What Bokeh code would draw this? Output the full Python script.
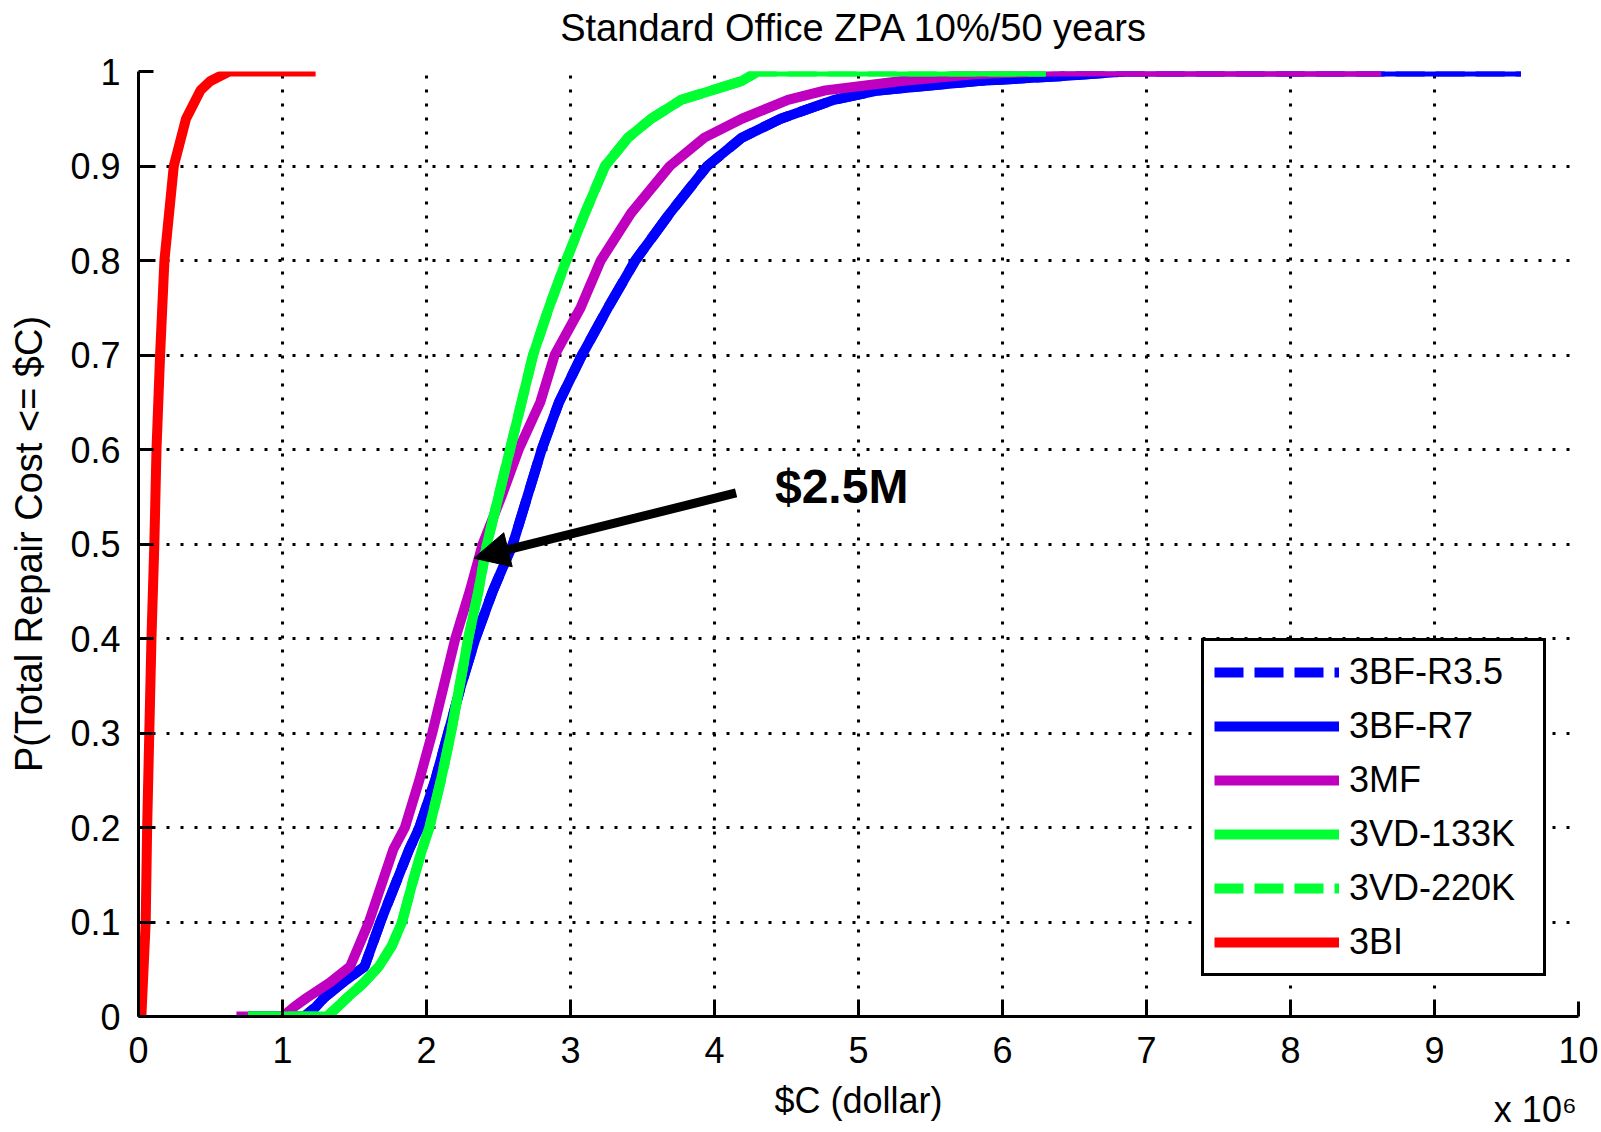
from bokeh.plotting import figure
from bokeh.models import (FixedTicker, CustomJSTickFormatter, Legend, LegendItem,
                          Label, Arrow, NormalHead, Range1d, LinearAxis)
from bokeh.embed import file_html
from bokeh.resources import INLINE

FONT = "Liberation Sans"
TITLE = "Standard Office ZPA 10%/50 years"
TITLE_POS = 4.97
X_LABEL = "$C (dollar)"
Y_LABEL = "P(Total Repair Cost <= $C)"
X_SCALE_TEXT = "x 10\u2076"
X_SCALE_POS = 9.70
X_TICKS = [0, 1, 2, 3, 4, 5, 6, 7, 8, 9, 10]
Y_TICKS = [0, 0.1, 0.2, 0.3, 0.4, 0.5, 0.6, 0.7, 0.8, 0.9, 1]

# x in millions of dollars, y = cumulative probability
X_BF35 = [0.76, 1.15, 1.23, 1.29, 1.42, 1.57, 1.68, 1.88, 1.95, 2.06, 2.15, 2.24, 2.34, 2.46, 2.60, 2.70,
          2.80, 2.92, 3.08, 3.26, 3.45, 3.69, 3.95, 4.19, 4.46, 4.83, 5.14, 5.83, 6.40, 6.85, 9.60]
Y_BF35 = [0.0, 0.0, 0.01, 0.02, 0.036, 0.053, 0.10, 0.177, 0.20, 0.25, 0.30, 0.35, 0.40, 0.45, 0.50, 0.55,
          0.60, 0.65, 0.70, 0.75, 0.80, 0.85, 0.90, 0.93, 0.95, 0.97, 0.98, 0.99, 0.995, 1.0, 1.0]

X_BF7 = [0.76, 1.15, 1.23, 1.29, 1.42, 1.57, 1.68, 1.88, 1.95, 2.06, 2.15, 2.24, 2.34, 2.46, 2.60, 2.70,
         2.80, 2.92, 3.08, 3.26, 3.45, 3.69, 3.95, 4.19, 4.46, 4.83, 5.14, 5.83, 6.40, 6.85, 9.60]
Y_BF7 = [0.0, 0.0, 0.01, 0.02, 0.036, 0.053, 0.10, 0.177, 0.20, 0.25, 0.30, 0.35, 0.40, 0.45, 0.50, 0.55,
         0.60, 0.65, 0.70, 0.75, 0.80, 0.85, 0.90, 0.93, 0.95, 0.97, 0.98, 0.99, 0.995, 1.0, 1.0]

X_MF = [0.68, 1.00, 1.08, 1.17, 1.33, 1.47, 1.60, 1.77, 1.85, 1.95, 2.04, 2.12, 2.20, 2.30, 2.39, 2.52,
        2.64, 2.79, 2.89, 3.07, 3.21, 3.42, 3.69, 3.93, 4.19, 4.51, 4.77, 5.30, 5.80, 6.30, 8.63]
Y_MF = [0.0, 0.0, 0.01, 0.02, 0.036, 0.053, 0.10, 0.177, 0.20, 0.25, 0.30, 0.35, 0.40, 0.45, 0.50, 0.55,
        0.60, 0.65, 0.70, 0.75, 0.80, 0.85, 0.90, 0.93, 0.95, 0.97, 0.98, 0.99, 0.997, 1.0, 1.0]

X_VD133 = [0.76, 1.31, 1.38, 1.45, 1.56, 1.67, 1.76, 1.83, 1.90, 1.97, 2.02, 2.10, 2.17, 2.23, 2.29, 2.36,
           2.42, 2.50, 2.58, 2.66, 2.74, 2.85, 2.97, 3.10, 3.24, 3.40, 3.56, 3.77, 3.98, 4.19, 4.30, 6.30]
Y_VD133 = [0.0, 0.0, 0.01, 0.02, 0.035, 0.053, 0.075, 0.10, 0.14, 0.177, 0.20, 0.25, 0.30, 0.35, 0.40, 0.45,
           0.50, 0.55, 0.60, 0.65, 0.70, 0.75, 0.80, 0.85, 0.90, 0.93, 0.95, 0.97, 0.98, 0.99, 1.0, 1.0]

X_VD220 = [0.76, 1.31, 1.38, 1.45, 1.56, 1.67, 1.76, 1.83, 1.90, 1.97, 2.02, 2.10, 2.17, 2.23, 2.29, 2.36,
           2.42, 2.50, 2.58, 2.66, 2.74, 2.85, 2.97, 3.10, 3.24, 3.40, 3.56, 3.77, 3.98, 4.19, 4.30, 6.30]
Y_VD220 = [0.0, 0.0, 0.01, 0.02, 0.035, 0.053, 0.075, 0.10, 0.14, 0.177, 0.20, 0.25, 0.30, 0.35, 0.40, 0.45,
           0.50, 0.55, 0.60, 0.65, 0.70, 0.75, 0.80, 0.85, 0.90, 0.93, 0.95, 0.97, 0.98, 0.99, 1.0, 1.0]

X_BI = [0.02, 0.05, 0.06, 0.075, 0.09, 0.11, 0.125, 0.15, 0.18, 0.245, 0.33, 0.43, 0.50, 0.63, 1.23]
Y_BI = [0.0, 0.1, 0.2, 0.3, 0.4, 0.5, 0.6, 0.7, 0.8, 0.9, 0.95, 0.98, 0.99, 1.0, 1.0]

SERIES_NAMES = ["3BF-R3.5", "3BF-R7", "3MF", "3VD-133K", "3VD-220K", "3BI"]
SERIES_X = [X_BF35, X_BF7, X_MF, X_VD133, X_VD220, X_BI]
SERIES_Y = [Y_BF35, Y_BF7, Y_MF, Y_VD133, Y_VD220, Y_BI]
SERIES_COLORS = ["#0000FF", "#0000FF", "#BF00BF", "#00FF33", "#00FF33", "#FF0000"]
SERIES_DASH = ["29 11", "solid", "solid", "solid", "29 11", "solid"]

ANNOT_TEXT = "$2.5M"
ARROW_START = (4.15, 0.554)
ARROW_END = (2.33, 0.485)
ANNOT_POS = (4.42, 0.561)

p = figure(width=1601, height=1132, x_range=Range1d(0, 10), y_range=Range1d(0, 1),
           output_backend="svg", toolbar_location=None,
           min_border_left=138, min_border_right=23, min_border_top=71, min_border_bottom=115)
p.background_fill_color = "white"
p.border_fill_color = "white"
p.outline_line_color = None

xax = p.xaxis[0]
yax = p.yaxis[0]
for ax in (xax, yax):
    ax.axis_line_width = 3
    ax.axis_line_color = "black"
    ax.major_tick_line_width = 3
    ax.major_tick_line_color = "black"
    ax.major_tick_in = 15
    ax.major_tick_out = 0
    ax.minor_tick_line_color = None
    ax.major_label_text_font = FONT
    ax.major_label_text_font_size = "36px"
    ax.major_label_text_color = "black"
    ax.axis_label_text_font = FONT
    ax.axis_label_text_font_style = "normal"
    ax.axis_label_text_color = "black"

xax.ticker = FixedTicker(ticks=X_TICKS)
yax.ticker = FixedTicker(ticks=Y_TICKS)
xax.formatter = CustomJSTickFormatter(code="return String(Math.round(tick));")
yax.formatter = CustomJSTickFormatter(code="return String(Math.round(tick*10)/10);")
xax.axis_label = X_LABEL
yax.axis_label = Y_LABEL
xax.axis_label_text_font_size = "36px"
yax.axis_label_text_font_size = "38px"
xax.major_label_standoff = 20
xax.axis_label_standoff = 14
yax.major_label_standoff = 18
yax.axis_label_standoff = 17


def text_axis(pos, text, size, standoff):
    ax = LinearAxis(ticker=FixedTicker(ticks=[pos]), major_label_overrides={pos: text})
    ax.axis_line_color = None
    ax.major_tick_line_color = None
    ax.minor_tick_line_color = None
    ax.major_tick_in = 0
    ax.major_tick_out = 0
    ax.major_label_text_font = FONT
    ax.major_label_text_font_size = size
    ax.major_label_text_color = "black"
    ax.major_label_standoff = standoff
    return ax


# chart title, centred above the plot area
p.add_layout(text_axis(TITLE_POS, TITLE, "38px", 23), "above")
# the "x 10^6" multiplier under the right end of the x axis
p.add_layout(text_axis(X_SCALE_POS, X_SCALE_TEXT, "36px", -35), "below")

p.xgrid.ticker = xax.ticker
p.ygrid.ticker = yax.ticker
p.grid.grid_line_color = "black"
p.grid.grid_line_dash = "3 11"
p.grid.grid_line_width = 3

items = []
for name, xs, ys, col, dash in zip(SERIES_NAMES, SERIES_X, SERIES_Y, SERIES_COLORS, SERIES_DASH):
    r = p.line(xs, ys, line_color=col, line_width=10, line_dash=dash)
    items.append(LegendItem(label=name, renderers=[r]))

legend = Legend(items=items, location=(1063, 40))
legend.border_line_color = "black"
legend.border_line_alpha = 1
legend.border_line_width = 3
legend.background_fill_color = "white"
legend.background_fill_alpha = 1
legend.label_text_font = FONT
legend.label_text_font_size = "36px"
legend.label_text_color = "black"
legend.glyph_width = 125
legend.glyph_height = 40
legend.label_height = 40
legend.label_width = 184
legend.spacing = 12
legend.padding = 10
legend.margin = 0
legend.label_standoff = 10
p.add_layout(legend)

p.add_layout(Arrow(end=NormalHead(size=35, fill_color="black", line_color="black", line_width=1),
                   x_start=ARROW_START[0], y_start=ARROW_START[1],
                   x_end=ARROW_END[0], y_end=ARROW_END[1],
                   line_width=9, line_color="black"))
p.add_layout(Label(x=ANNOT_POS[0], y=ANNOT_POS[1], text=ANNOT_TEXT, text_font=FONT,
                   text_font_size="48px", text_font_style="bold", text_color="black",
                   text_baseline="middle"))

open("out.html", "w").write(file_html(p, INLINE))
